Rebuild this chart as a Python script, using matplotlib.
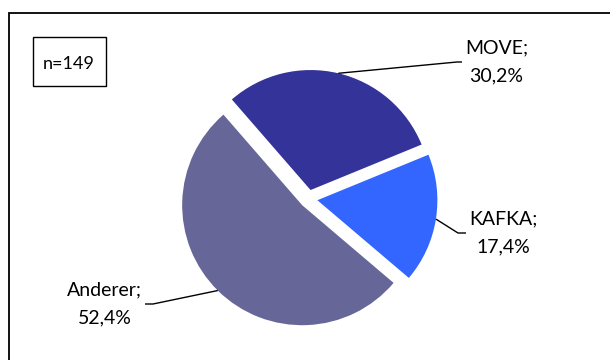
import numpy as np
import matplotlib
matplotlib.use("Agg")
import matplotlib.pyplot as plt
from matplotlib.patches import Rectangle

# share of respondents per framework
categories = ["MOVE", "KAFKA", "Anderer"]
shares = [30.2, 17.4, 52.4]
slice_colors = ["#333399", "#3366FF", "#666699"]
sample_note = "n=149"

# label layout: (elbow x, elbow y, line end x, text x, horizontal alignment), pixel space
label_layout = {
    "MOVE": (457, 62, 462, 465, "left"),
    "KAFKA": (458, 233, 466, 469, "left"),
    "Anderer": (153, 304, 145, 142, "right"),
}

W, H = 610, 360
plt.rcParams["font.family"] = ["Lato", "DejaVu Sans"]

fig = plt.figure(figsize=(W / 100, H / 100), dpi=100)
ax = fig.add_axes([0, 0, 1, 1])


def py(y):
    # flip pixel rows into data coordinates
    return H - y


# explode is in data units here (pixels), not a fraction of the radius
wedges, _ = ax.pie(
    shares,
    colors=slice_colors,
    startangle=131,
    counterclock=False,
    explode=[9] * len(shares),
    radius=120,
    center=(308.5, py(198.8)),
    wedgeprops=dict(linewidth=0),
)

for name, value, wedge in zip(categories, shares, wedges):
    mid = np.deg2rad((wedge.theta1 + wedge.theta2) / 2)
    cx, cy = wedge.center
    ax_, ay_ = cx + wedge.r * np.cos(mid), cy + wedge.r * np.sin(mid)
    ex, ey, lx, tx, ha = label_layout[name]
    ax.plot([ax_, ex, lx], [ay_, py(ey), py(ey)], color="black", linewidth=1.0,
            solid_capstyle="butt")
    label = f"{name};\n{value:.1f}%".replace(".", ",")
    ax.text(tx, py(ey), label, ha=ha, va="center", multialignment="center",
            fontsize=14, linespacing=1.75, color="black")

# outer chart frame, running past the right and bottom edge
ax.add_patch(Rectangle((8.5, py(380)), 640, 367, fill=False, edgecolor="black",
                       linewidth=1.3, clip_on=False))

# sample size box
ax.add_patch(Rectangle((32.5, py(86)), 73, 49, fill=False, edgecolor="black",
                       linewidth=1.0))
ax.text(69, py(64), sample_note, ha="center", va="center", fontsize=13, color="black")

ax.set_xlim(0, W)
ax.set_ylim(0, H)
ax.set_aspect("equal")
ax.axis("off")

fig.savefig("out.png", dpi=100, facecolor="white")
